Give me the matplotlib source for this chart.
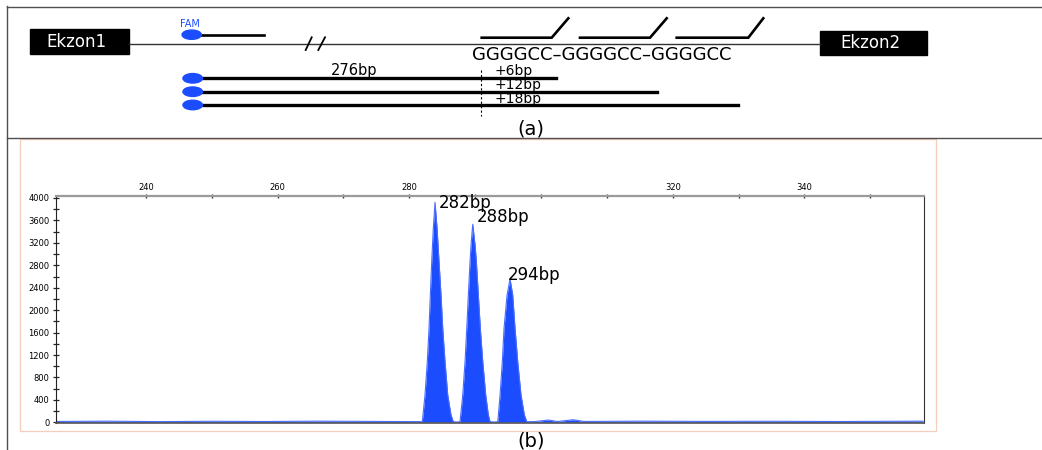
# Fragment analysis figure: (a) scheme of the repeat-primed PCR, (b) electropherogram
import numpy as np
import matplotlib.pyplot as plt
from matplotlib.patches import Rectangle, Ellipse

plt.rcParams['font.family'] = ['DejaVu Sans']

# ---- data ----
size = [226.5, 234, 242, 250, 258, 266, 274, 281.6,
        281.97, 282.38, 282.73, 282.99, 283.19, 283.40, 283.64, 283.90,
        284.21, 284.51, 284.81, 285.07, 285.42, 285.83, 286.33, 286.68,
        287.17,
        287.70, 288.11, 288.46, 288.72, 288.96, 289.22, 289.37, 289.63,
        289.98, 290.18, 290.48, 290.78, 291.15, 291.60, 292.00, 292.26,
        292.85,
        293.43, 293.78, 294.12, 294.38, 294.84, 295.29,
        295.70, 296.05, 296.46, 296.96, 297.47, 297.83,
        299.0, 301.1, 302.5, 304.9, 306.5, 315, 325, 335, 345, 358]
rfu = [15, 20, 12, 18, 14, 20, 16, 12,
       11, 487, 1081, 1676, 2270, 2865, 3459, 3923,
       3459, 2865, 2270, 1676, 1081, 487, 130, 11,
       5,
       11, 487, 1081, 1676, 2270, 2865, 3162, 3531,
       3162, 2865, 2270, 1676, 1081, 487, 130, 11,
       5,
       11, 487, 1081, 1676, 2270, 2556,
       2270, 1676, 1081, 487, 130, 11,
       12, 40, 14, 45, 15, 20, 16, 18, 14, 20]

peak_size = [283.90, 289.63, 295.29]
peak_height = [3923, 3531, 2556]
peak_labels = ['282bp', '288bp', '294bp']

x_ticks = list(range(240, 351, 10))
x_ticklabels = ['240', '', '260', '', '280', '', '', '', '320', '', '340', '']
y_major = list(range(0, 4001, 400))
y_minor = list(range(0, 4001, 200))

# ---- scheme texts ----
exon_labels = ['Ekzon1', 'Ekzon2']
repeat_text = 'GGGGCC\u2013GGGGCC\u2013GGGGCC'
frag_labels = ['+6bp', '+12bp', '+18bp']
base_label = '276bp'

BLUE = '#1b4dff'

fig = plt.figure(figsize=(10.42, 4.5), dpi=100)

# background axes in pixel units for the scheme and frames
bg = fig.add_axes([0, 0, 1, 1])
bg.set_xlim(0, 1042)
bg.set_ylim(450, 0)
bg.axis('off')

# frame
bg.plot([7, 7], [6, 450], color='#505050', lw=1.0)
bg.plot([7, 1042], [6.5, 6.5], color='#505050', lw=1.0)
bg.plot([7, 1042], [138, 138], color='#505050', lw=1.0)
bg.add_patch(Rectangle((19.5, 138.5), 916, 292.5, fill=False,
                       ec='#f4cdbd', lw=0.9))

# exons and intron line
bg.plot([129, 820], [43.5, 43.5], color='#333333', lw=1.0)
for (x0, y0, w, h), lab in zip([(30, 29.3, 99.3, 24.7), (820, 30.7, 107, 24.3)],
                               exon_labels):
    bg.add_patch(Rectangle((x0, y0), w, h, fc='black', ec='black'))
    bg.text(x0 + w / 2 - 3, y0 + h / 2, lab, color='white', fontsize=12,
            ha='center', va='center')

# break marks
bg.plot([305.7, 311.7], [50, 37.3], color='black', lw=1.3)
bg.plot([318.3, 325], [50, 37.3], color='black', lw=1.3)

# FAM primer
bg.add_patch(Ellipse((191.7, 34.7), 19.3, 9.3, color=BLUE, zorder=3))
bg.plot([200, 264.3], [34.7, 34.7], color='black', lw=1.9)
bg.text(190, 24, 'FAM', color=BLUE, fontsize=7, ha='center', va='center')

# repeat primers
for xs in [(481.7, 551.7, 568.3), (580, 650, 666.7), (676.7, 748.3, 763.3)]:
    bg.plot(xs, [37.7, 37.7, 18.3], color='black', lw=1.9,
            solid_joinstyle='miter')
bg.text(472, 54.7, repeat_text, fontsize=13, ha='left', va='center')

# products
for yy, x_end in zip([78.3, 91.7, 105], [556, 657.4, 737.5]):
    bg.plot([195, x_end], [yy, yy], color='black', lw=2.4)
    bg.add_patch(Ellipse((192.7, yy), 19.5, 9.5, color=BLUE, zorder=3))
bg.text(330.5, 71, base_label, fontsize=10.5, ha='left', va='center')
for yy, lab in zip([70.8, 85, 99], frag_labels):
    bg.text(494, yy, lab, fontsize=10, ha='left', va='center')
bg.plot([480.7, 480.7], [70, 116], color='black', lw=0.8, ls=(0, (2, 2)))

bg.text(531, 129, '(a)', fontsize=14, ha='center', va='center')
bg.text(531, 441, '(b)', fontsize=14, ha='center', va='center')

# ---- electropherogram ----
ax = fig.add_axes([55.7 / 1042, 1 - 423.3 / 450,
                   (924.3 - 55.7) / 1042, (423.3 - 195.7) / 450])
ax.fill_between(size, 0, rfu, color=BLUE, lw=0)
ax.plot(size, rfu, color='#4a6dff', lw=0.8)
ax.set_xlim(226.3, 358.2)
ax.set_ylim(-18, 4041)

ax.xaxis.tick_top()
ax.set_xticks(x_ticks)
ax.set_xticklabels(x_ticklabels)
ax.set_yticks(y_major)
ax.set_yticks(y_minor, minor=True)
ax.tick_params(axis='x', direction='inout', length=3.5, width=1.0,
               color='#333333', labelsize=6, pad=1)
ax.tick_params(axis='y', which='major', direction='inout', length=4,
               width=0.9, color='#222222', labelsize=6, pad=2.5)
ax.tick_params(axis='y', which='minor', direction='inout', length=4,
               width=0.9, color='#222222')
ax.spines['top'].set_color('#9a9a9a')
ax.spines['top'].set_linewidth(1.6)
ax.spines['left'].set_color('#222222')
ax.spines['right'].set_color('#333333')
ax.spines['bottom'].set_color('#555555')
ax.spines['bottom'].set_linewidth(1.2)

offsets = [(3.0, -0.5), (3.0, 5.0), (-1.8, 3.2)]
for xs, h, lab, off in zip(peak_size, peak_height, peak_labels, offsets):
    ax.annotate(lab, (xs, h), xytext=off, textcoords='offset points',
                fontsize=12, ha='left', va='center')

fig.savefig('out.png', dpi=100)
